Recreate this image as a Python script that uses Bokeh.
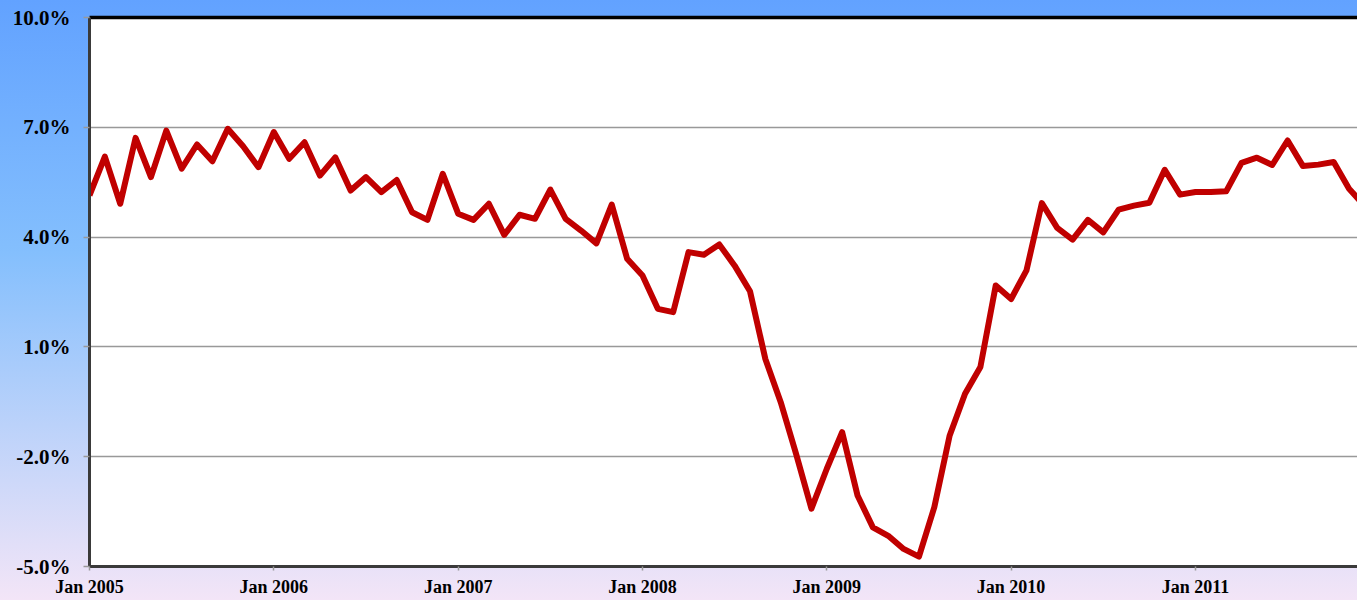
from bokeh.plotting import figure
from bokeh.models import LinearAxis, FixedTicker, Range1d
from bokeh.embed import file_html
from bokeh.resources import INLINE

# Monthly values, Jan 2005 .. Dec 2011 (percent)
months = list(range(84))
values = [
    5.14, 6.20, 4.91, 6.71, 5.64, 6.91, 5.87, 6.53, 6.07, 6.96, 6.48, 5.91,   # 2005
    6.87, 6.14, 6.59, 5.68, 6.18, 5.27, 5.64, 5.23, 5.56, 4.68, 4.47, 5.73,   # 2006
    4.64, 4.47, 4.91, 4.06, 4.61, 4.50, 5.30, 4.50, 4.18, 3.83, 4.89, 3.41,   # 2007
    2.95, 2.04, 1.95, 3.59, 3.52, 3.80, 3.22, 2.52, 0.67, -0.51, -1.92, -3.42, # 2008
    -2.33, -1.33, -3.06, -3.93, -4.16, -4.52, -4.73, -3.38, -1.42, -0.28, 0.45, 2.68, # 2009
    2.31, 3.09, 4.93, 4.25, 3.93, 4.47, 4.13, 4.75, 4.86, 4.94, 5.84, 5.16,   # 2010
    5.23, 5.23, 5.25, 6.03, 6.17, 5.97, 6.64, 5.94, 5.98, 6.05, 5.32, 4.86,   # 2011
]
x_tick_pos = [0, 12, 24, 36, 48, 60, 72]
x_tick_labels = ["Jan 2005", "Jan 2006", "Jan 2007", "Jan 2008", "Jan 2009", "Jan 2010", "Jan 2011"]
y_ticks = [-5.0, -2.0, 1.0, 4.0, 7.0, 10.0]
y_tick_labels = ["-5.0%", "-2.0%", "1.0%", "4.0%", "7.0%", "10.0%"]

p = figure(
    width=1357, height=600,
    output_backend="svg", toolbar_location=None,
    x_range=Range1d(0, 82.55), y_range=Range1d(-5, 10),
    min_border_left=89, min_border_right=0, min_border_top=17, min_border_bottom=34,
)
p.styles = {
    "position": "absolute", "left": "0px", "top": "0px",
    "background": "linear-gradient(to bottom, #62A2FF 0%, #84BFFD 42%, #F3E5F7 100%)",
}
p.border_fill_alpha = 0
p.background_fill_color = "white"
p.outline_line_color = None

# grid
p.xgrid.grid_line_color = None
p.ygrid.grid_line_color = "#999999"
p.ygrid.grid_line_width = 1.6

# y axis
ya = p.yaxis[0]
ya.ticker = FixedTicker(ticks=y_ticks)
ya.major_label_overrides = {t: l for t, l in zip(y_ticks, y_tick_labels)}
ya.major_label_text_font = "Liberation Serif"
ya.major_label_text_font_style = "bold"
ya.major_label_text_font_size = "21px"
ya.major_label_text_color = "black"
ya.axis_line_color = "#3a3a3a"
ya.axis_line_width = 3
ya.major_tick_line_color = "#999999"
ya.major_tick_line_width = 1.5
ya.major_tick_in = 0
ya.major_tick_out = 6
ya.minor_tick_line_color = None
ya.major_label_standoff = 13

# x axis
xa = p.xaxis[0]
xa.ticker = FixedTicker(ticks=x_tick_pos)
xa.major_label_overrides = {t: l for t, l in zip(x_tick_pos, x_tick_labels)}
xa.major_label_text_font = "Liberation Serif"
xa.major_label_text_font_style = "bold"
xa.major_label_text_font_size = "18px"
xa.major_label_text_color = "black"
xa.axis_line_color = "#3a3a3a"
xa.axis_line_width = 3
xa.major_tick_line_color = "#999999"
xa.major_tick_line_width = 1.5
xa.major_tick_in = 0
xa.major_tick_out = 4
xa.minor_tick_line_color = None
xa.major_label_standoff = 6

# top black border as an axis without ticks or labels
top = LinearAxis(
    axis_line_color="black", axis_line_width=3.5,
    major_tick_line_color=None, minor_tick_line_color=None,
    major_label_text_font_size="0px", ticker=FixedTicker(ticks=[]),
)
p.add_layout(top, "above")

p.line(months, values, line_color="#C00000", line_width=6, line_join="round")

open("out.html", "w").write(file_html(p, INLINE))
